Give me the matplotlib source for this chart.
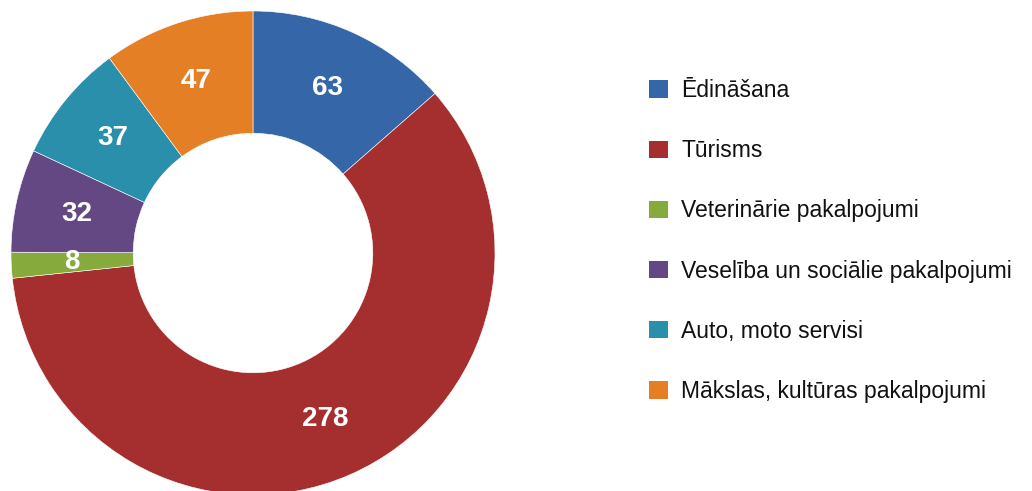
import matplotlib
matplotlib.use("Agg")
import matplotlib.pyplot as plt
from matplotlib.patches import Patch
import numpy as np

categories = ["Ēdināšana", "Tūrisms", "Veterinārie pakalpojumi",
              "Veselība un sociālie pakalpojumi", "Auto, moto servisi",
              "Mākslas, kultūras pakalpojumi"]
values = [63, 278, 8, 32, 37, 47]
colors = ["#3566A8", "#A52F2F", "#86AA3C", "#644884", "#2A8FAA", "#E47F26"]

W, H = 1032, 491
fig = plt.figure(figsize=(W / 100, H / 100), dpi=100)
fig.patch.set_facecolor("white")

font = ["Liberation Sans Narrow", "Liberation Sans", "DejaVu Sans"]

cx, cy, r = 253, 491 - 253, 242
ax = fig.add_axes([(cx - r) / W, (cy - r) / H, 2 * r / W, 2 * r / H])
ax.pie(values, colors=colors, startangle=90, counterclock=False,
       radius=1.0, wedgeprops=dict(width=0.505, edgecolor="white", linewidth=0.4))
ax.set_xlim(-1, 1)
ax.set_ylim(-1, 1)
ax.set_aspect("equal")
ax.axis("off")

total = sum(values)
start = 90.0
mid_r = 1 - 0.505 / 2
for v in values:
    ang = start - v / total * 360 / 2
    start -= v / total * 360
    x = mid_r * np.cos(np.radians(ang))
    y = mid_r * np.sin(np.radians(ang))
    ax.text(x, y, str(v), ha="center", va="center", color="white",
            fontsize=20, fontweight="bold", family=font)

handles = [Patch(facecolor=c, edgecolor="none") for c in colors]
fig.legend(handles, categories, loc="upper left",
           bbox_to_anchor=(640 / W, 1 - 70 / H), frameon=False,
           prop=dict(family=font, size=16.5), labelspacing=1.62,
           handlelength=0.8, handleheight=0.8, handletextpad=0.6,
           borderaxespad=0, labelcolor="#111111")

fig.text(52 / W, 1 + 12 / H, "(skaits)", ha="left", va="center",
         fontsize=16, color="#666666", family=font)

fig.savefig("out.png", dpi=100)
